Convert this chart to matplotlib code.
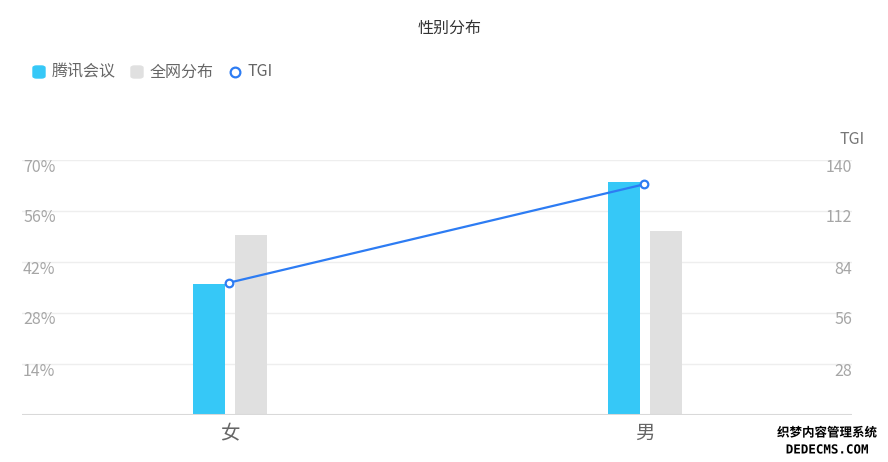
import matplotlib
matplotlib.use("Agg")
import matplotlib.pyplot as plt
import matplotlib.patheffects as pe
from matplotlib.lines import Line2D
from matplotlib.patches import FancyBboxPatch
import numpy as np

plt.rcParams['font.family'] = ['Noto Sans CJK SC', 'DejaVu Sans']

## data
categories = ["女", "男"]
tencent = [36.0, 64.0]     # 腾讯会议 (%)
overall = [49.5, 50.5]     # 全网分布 (%)
tgi = [72.7, 126.7]        # TGI
left_ticks = [14, 28, 42, 56, 70]
right_ticks = [28, 56, 84, 112, 140]

c_tencent = "#36c8f7"
c_overall = "#e0e0e0"
c_tgi = "#2d7cf3"
c_tick = "#a6a6a6"

W, H = 888, 462
fig = plt.figure(figsize=(W / 100, H / 100), dpi=100)
ax = fig.add_axes([22 / W, (H - 415) / H, (852 - 22) / W, (415 - 160) / H])
ax2 = ax.twinx()

x = np.arange(len(categories))
bw = 32 / 415.0
off = 21 / 415.0
ax.bar(x - off, tencent, bw, color=c_tencent, zorder=3)
ax.bar(x + off, overall, bw, color=c_overall, zorder=3)

ax.set_xlim(-0.5, 1.5)
ax.set_ylim(0, 70)
ax2.set_ylim(0, 140)

ax2.plot(x, tgi, color=c_tgi, lw=1.6, marker="o", ms=5.5, mfc="white",
         mec=c_tgi, mew=1.6, zorder=5)

# grid
for t in left_ticks:
    ax.axhline(t, color="#eeeeee", lw=1, zorder=1)
ax.axhline(0, color="#d9d9d9", lw=2.2, zorder=4)

for a in (ax, ax2):
    for s in a.spines.values():
        s.set_visible(False)
    a.set_yticks([])
ax.set_xticks(x)
ax.set_xticklabels(categories, fontsize=14, color="#666666")
ax.tick_params(axis="x", length=0, pad=6)

# inside tick labels
for t in left_ticks:
    ax.annotate("%d%%" % t, xy=(0, t), xycoords=("axes fraction", "data"),
                xytext=(1, -7), textcoords="offset pixels",
                ha="left", va="center", fontsize=11.5, color=c_tick)
for t in right_ticks:
    ax2.annotate("%d" % t, xy=(1, t), xycoords=("axes fraction", "data"),
                 xytext=(0, -7), textcoords="offset pixels",
                 ha="right", va="center", fontsize=11.5, color=c_tick)
ax2.annotate("TGI", xy=(1, 1), xycoords="axes fraction", xytext=(0, 21),
             textcoords="offset pixels", ha="center", va="center",
             fontsize=11.5, color="#777777")

# title
fig.text(450 / W, 1 - 28 / H, "性别分布", ha="center", va="center",
         fontsize=11.5, color="#333333")

# legend
ly = 1 - 72 / H
for px, col in [(33, c_tencent), (131, c_overall)]:
    fig.patches.append(FancyBboxPatch((px / W, ly - 6 / H), 12 / W, 12 / H,
                                      boxstyle="round,pad=0,rounding_size=0.004",
                                      transform=fig.transFigure, color=col))
fig.lines.append(Line2D([235 / W], [ly], transform=fig.transFigure, marker="o",
                        ms=7, mfc="white", mec=c_tgi, mew=1.6))
for px, s in [(52, "腾讯会议"), (150, "全网分布"), (248, "TGI")]:
    fig.text(px / W, ly, s, ha="left", va="center", fontsize=11.5, color="#666666")

# watermark
wm = [pe.withStroke(linewidth=2, foreground="white")]
fig.text(827 / W, 1 - 433 / H, "织梦内容管理系统", ha="center", va="center",
         fontsize=9, fontweight="bold", color="black", path_effects=wm)
fig.text(827 / W, 1 - 450 / H, "DEDECMS.COM", ha="center", va="center",
         fontsize=9, fontweight="bold", color="black", path_effects=wm,
         family="DejaVu Sans Mono")

fig.savefig("out.png", dpi=100)
